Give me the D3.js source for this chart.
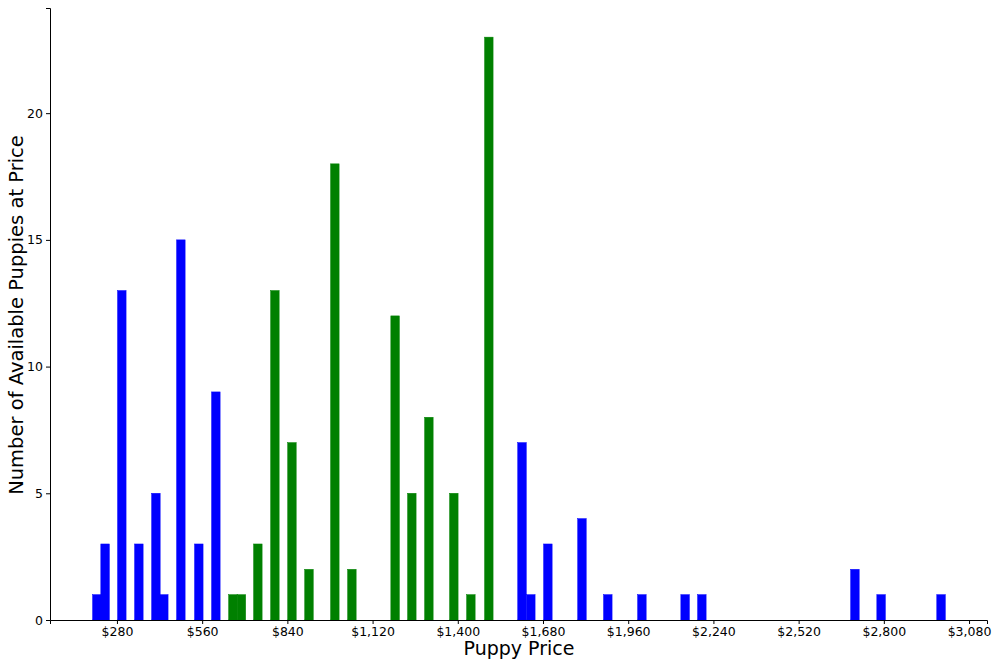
<!DOCTYPE html>
<html>
<head>
<meta charset="utf-8">
<script src="https://cdn.jsdelivr.net/npm/d3@7"></script>
<style>
body { margin: 0; background: #fff; }
text { font-family: "DejaVu Sans", sans-serif; }
</style>
</head>
<body>
<svg id="chart"></svg>
<script>
// bar prices ($) and counts
var bluePricesLow = [214, 241, 296, 352, 408, 434, 490, 549, 605]
var blueCountsLow = [1, 3, 13, 3, 5, 1, 15, 3, 9]
var greenPrices = [661, 689, 743, 799, 855, 911, 996, 1052, 1194, 1249, 1305, 1387, 1443, 1502]
var greenCounts = [1, 1, 3, 13, 7, 2, 18, 2, 12, 5, 8, 5, 1, 23]
var bluePricesHigh = [1611, 1640, 1696, 1808, 1893, 2005, 2147, 2202, 2705, 2791, 2988]
var blueCountsHigh = [7, 1, 3, 4, 1, 1, 1, 1, 2, 1, 1]
var xTicks = [280, 560, 840, 1120, 1400, 1680, 1960, 2240, 2520, 2800, 3080]
var yTicks = [0, 5, 10, 15, 20]
var barWidth = 28

var dimensions = {
    width: 1000,
    height: 666,
    margin: { top: 8, bottom: 46, right: 13, left: 50 }
}

var bars = []
bluePricesLow.forEach((p, i) => bars.push({ price: p, count: blueCountsLow[i], color: "#0000ff" }))
greenPrices.forEach((p, i) => bars.push({ price: p, count: greenCounts[i], color: "#008000" }))
bluePricesHigh.forEach((p, i) => bars.push({ price: p, count: blueCountsHigh[i], color: "#0000ff" }))

var svg = d3.select("#chart")
    .attr("width", dimensions.width)
    .attr("height", dimensions.height)

var xScale = d3.scaleLinear()
    .domain([60, 3139])
    .range([dimensions.margin.left, dimensions.width - dimensions.margin.right])

var yScale = d3.scaleLinear()
    .domain([0, 24.15])
    .range([dimensions.height - dimensions.margin.bottom, dimensions.margin.top])

svg.selectAll("rect")
    .data(bars)
    .enter()
    .append("rect")
    .attr("x", d => xScale(d.price - barWidth / 2))
    .attr("y", d => yScale(d.count))
    .attr("width", xScale(barWidth) - xScale(0))
    .attr("height", d => yScale(0) - yScale(d.count))
    .attr("fill", d => d.color)
    .attr("stroke", d => d.color)
    .attr("stroke-width", 0.5)

var xAxis = svg.append("g")
    .attr("transform", `translate(0,${dimensions.height - dimensions.margin.bottom})`)
    .call(d3.axisBottom(xScale).tickValues(xTicks).tickFormat(d => "$" + d3.format(",")(d)).tickSizeOuter(0).tickSize(4).tickPadding(3))
var yAxis = svg.append("g")
    .attr("transform", `translate(${dimensions.margin.left},0)`)
    .call(d3.axisLeft(yScale).tickValues(yTicks).tickSizeOuter(0).tickSize(4).tickPadding(3))

svg.selectAll(".tick text").style("font-size", "12.5px").attr("fill", "#000")
svg.selectAll(".domain, .tick line").attr("stroke", "#000")

svg.append("text")
    .attr("x", 519)
    .attr("y", 655)
    .attr("text-anchor", "middle")
    .style("font-size", "19px")
    .text("Puppy Price")

svg.append("text")
    .attr("transform", `translate(23,${(dimensions.margin.top + dimensions.height - dimensions.margin.bottom) / 2 + 1}) rotate(-90)`)
    .attr("text-anchor", "middle")
    .style("font-size", "19.5px")
    .text("Number of Available Puppies at Price")
</script>
</body>
</html>
